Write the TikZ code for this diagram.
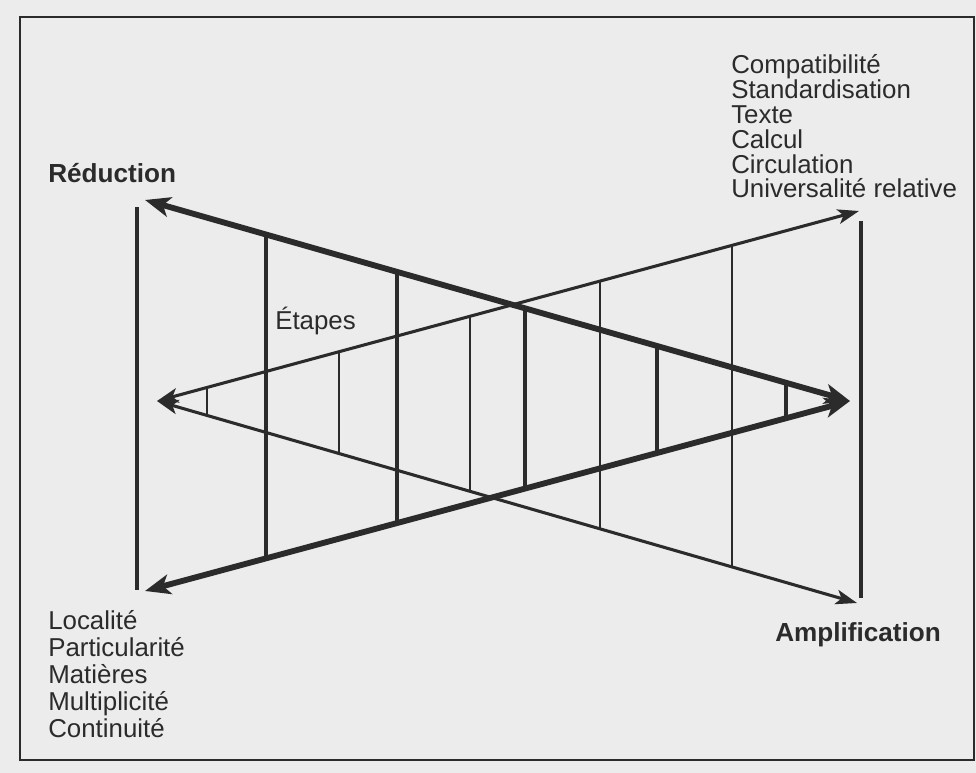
\documentclass[tikz,border=0pt]{standalone}
\usepackage{fontspec}
\setmainfont{Liberation Sans}
\usetikzlibrary{arrows.meta}
\definecolor{ink}{HTML}{2B2B2B}
\definecolor{paper}{HTML}{ECECEC}
\tikzset{
  lbl/.style={inner sep=0pt, anchor=base west, text=ink, font=\fontsize{19.4}{20}\selectfont},
  blbl/.style={lbl, font=\fontsize{19.6}{20}\selectfont\bfseries},
  thickarrow/.style={draw=ink, line width=4.4pt, {Stealth[length=19pt,width=15pt,inset=5pt]}-{Stealth[length=19pt,width=15pt,inset=5pt]}},
  thinarrow/.style={draw=ink, line width=2.3pt, {Stealth[length=16pt,width=11pt,inset=4pt]}-{Stealth[length=16pt,width=11pt,inset=4pt]}},
  thickbar/.style={draw=ink, line width=3.6pt},
  thinbar/.style={draw=ink, line width=1.8pt},
  frame/.style={draw=ink, line width=1.8pt}
}
\begin{document}
\begin{tikzpicture}[x=0.75pt,y=-0.75pt]
\fill[paper] (0,0) rectangle (976,773);
\useasboundingbox (0,0) rectangle (976,773);
\draw[frame] (20,17) rectangle (974,760);

% apexes and tips
\coordinate (R) at (850,401);
\coordinate (TL) at (145,200);
\coordinate (BL) at (145,591);
\coordinate (L) at (157,401);
\coordinate (TR) at (859,211);
\coordinate (BR) at (857,603);

% end bars
\draw[thickbar] (137,207) -- (137,590);
\draw[thickbar] (861,221) -- (861,598);

% vertical steps between thick lines
\foreach \x in {266,397,525,657,786}{
  \draw[thickbar] (\x,{401-0.28511*(850-\x)}) -- (\x,{401+0.26950*(850-\x)});
}
% vertical steps between thin lines
\foreach \x in {207,339,470,600,732}{
  \draw[thinbar] (\x,{401-0.27066*(\x-157)}) -- (\x,{401+0.28857*(\x-157)});
}

% main arrows
\draw[thinarrow] (L) -- (TR);
\draw[thinarrow] (L) -- (BR);
\draw[thickarrow] (R) -- (TL);
\draw[thickarrow] (R) -- (BL);

% labels
\node[blbl] (red) at (48,183) {Réduction};
\node[blbl] (amp) at (775,642) {Amplification};
\node[lbl] (eta) at (275,330) {Étapes};

\foreach \t [count=\i] in {Compatibilité,Standardisation,Texte,Calcul,Circulation,Universalité relative}{
  \node[lbl] (r\i) at (731,{74+(\i-1)*24.8}) {\t};
}
\foreach \t [count=\i] in {Localité,Particularité,Matières,Multiplicité,Continuité}{
  \node[lbl] (l\i) at (48,{630+(\i-1)*26.8}) {\t};
}
\end{tikzpicture}
\end{document}
